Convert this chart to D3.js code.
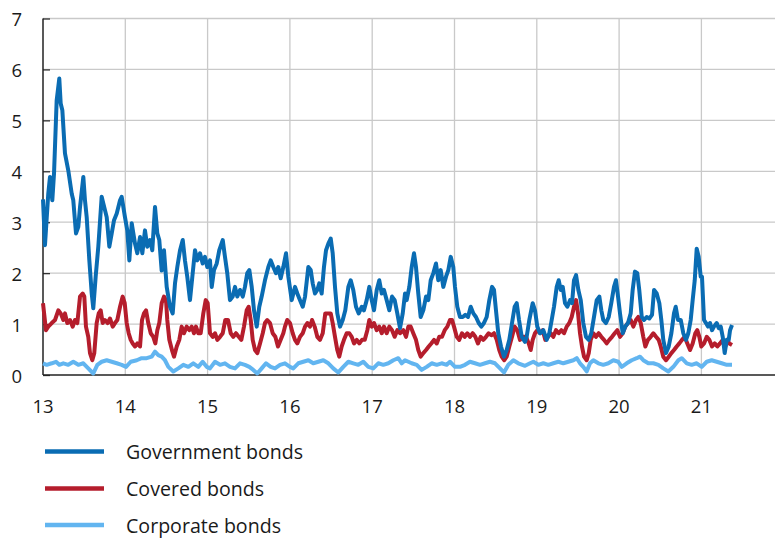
<!DOCTYPE html>
<html>
<head>
<meta charset="utf-8">
<script src="https://cdn.jsdelivr.net/npm/d3@7"></script>
<style>
  html, body { margin: 0; padding: 0; background: #fff; }
  svg { display: block; }
  text { font-family: "Open Sans", "Noto Sans", sans-serif; fill: #1a1a1a; }
</style>
</head>
<body>
<svg id="chart" width="775" height="541"></svg>
<script>
// ---------- data (decimal years, e.g. 13.5 = mid-2013) ----------
const yTicks = [0, 1, 2, 3, 4, 5, 6, 7];
const xTicks = [13, 14, 15, 16, 17, 18, 19, 20, 21];
const xTickLabels = ["13", "14", "15", "16", "17", "18", "19", "20", "21"];
const seriesNames = ["Government bonds", "Covered bonds", "Corporate bonds"];

const govYears = [13.000,13.024,13.064,13.085,13.113,13.134,13.166,13.198,13.215,13.235,13.267,13.307,13.349,13.368,13.401,13.429,13.450,13.490,13.510,13.531,13.563,13.592,13.611,13.640,13.672,13.713,13.733,13.774,13.806,13.835,13.863,13.896,13.936,13.956,13.996,
14.024,14.049,14.078,14.118,14.146,14.179,14.207,14.239,14.267,14.300,14.328,14.361,14.389,14.413,14.442,14.470,14.503,14.543,14.576,14.604,14.632,14.665,14.698,14.725,14.753,14.786,14.819,14.847,14.875,14.908,14.940,14.968,14.996,
15.029,15.050,15.078,15.111,15.142,15.184,15.211,15.239,15.272,15.305,15.333,15.361,15.394,15.427,15.454,15.482,15.507,15.536,15.564,15.597,15.628,15.657,15.697,15.738,15.767,15.798,15.831,15.859,15.888,15.920,15.953,15.981,
16.022,16.062,16.090,16.123,16.156,16.184,16.224,16.253,16.277,16.305,16.333,16.357,16.386,16.414,16.439,16.467,16.496,16.520,16.548,16.576,16.609,16.642,16.673,16.710,16.739,16.770,16.803,16.836,16.873,16.900,16.933,16.965,16.994,
17.022,17.055,17.086,17.116,17.143,17.176,17.208,17.241,17.273,17.305,17.338,17.371,17.399,17.419,17.451,17.480,17.508,17.532,17.560,17.589,17.621,17.654,17.682,17.711,17.743,17.775,17.803,17.832,17.864,17.897,17.925,17.954,17.985,
18.006,18.034,18.067,18.100,18.131,18.164,18.197,18.229,18.261,18.294,18.326,18.358,18.391,18.423,18.456,18.480,18.504,18.532,18.565,18.601,18.634,18.666,18.699,18.731,18.756,18.784,18.817,18.857,18.877,18.909,18.950,18.978,
19.006,19.039,19.079,19.120,19.152,19.181,19.209,19.242,19.266,19.291,19.315,19.343,19.371,19.404,19.428,19.452,19.477,19.505,19.534,19.565,19.598,19.631,19.662,19.695,19.728,19.760,19.784,19.808,19.841,19.874,19.905,19.938,19.962,19.987,
20.011,20.044,20.075,20.108,20.141,20.165,20.193,20.221,20.245,20.275,20.303,20.335,20.367,20.400,20.425,20.457,20.489,20.513,20.537,20.570,20.603,20.635,20.667,20.688,20.716,20.749,20.780,20.813,20.841,20.870,20.894,20.919,20.943,20.967,20.992,
21.007,21.032,21.056,21.080,21.105,21.129,21.153,21.186,21.210,21.235,21.259,21.283,21.308,21.332,21.348,21.372];
const govValues = [3.45,2.55,3.56,3.89,3.43,3.96,5.39,5.82,5.33,5.20,4.35,4.02,3.56,3.43,2.78,2.91,3.30,3.89,3.43,3.10,2.25,1.60,1.31,1.93,2.52,3.50,3.37,3.10,2.52,2.78,3.04,3.17,3.43,3.50,3.10,
2.84,2.25,2.98,2.58,2.39,2.71,2.39,2.84,2.52,2.65,2.45,3.30,2.78,2.65,2.05,2.45,1.73,1.34,1.21,1.80,2.12,2.45,2.65,2.25,1.93,1.47,2.00,2.45,2.25,2.39,2.19,2.32,2.12,
2.25,1.73,2.06,2.19,2.45,2.65,2.32,2.00,1.47,1.54,1.73,1.54,1.67,1.54,1.73,2.00,2.06,1.73,1.27,0.95,1.34,1.54,1.86,2.12,2.25,2.12,2.00,2.12,1.90,2.12,2.39,1.93,
1.47,1.73,1.60,1.47,1.34,1.54,2.12,2.06,1.80,1.60,1.67,1.80,1.60,2.12,2.45,2.58,2.68,2.39,1.73,1.21,0.95,1.08,1.27,1.73,1.86,1.67,1.34,1.21,1.34,1.27,1.47,1.73,1.47,
1.27,1.67,1.86,1.60,1.67,1.47,1.27,1.54,1.47,1.21,0.92,1.21,1.60,1.47,1.73,2.12,2.39,2.12,1.60,1.14,1.27,1.54,1.47,1.86,2.00,2.19,1.86,2.06,1.73,1.93,2.06,2.32,2.12,
1.73,1.34,1.14,1.14,1.18,1.14,1.34,1.21,1.14,1.02,0.95,1.02,1.14,1.47,1.73,1.67,1.27,0.82,0.56,0.36,0.49,0.69,1.02,1.34,1.41,1.08,0.75,0.65,0.75,1.08,1.41,1.27,
0.95,0.82,0.88,0.69,0.82,1.08,1.34,1.73,1.86,1.67,1.73,1.41,1.34,1.47,1.41,1.86,1.96,1.67,1.47,1.02,0.75,0.69,0.82,1.14,1.47,1.54,1.27,1.08,1.02,1.14,1.41,1.73,1.86,1.54,
1.21,0.82,0.95,1.02,1.21,1.67,2.03,2.00,1.67,1.14,1.08,1.14,1.11,1.18,1.67,1.60,1.41,1.08,0.69,0.43,0.56,0.82,1.21,1.34,1.08,1.08,0.82,0.69,0.82,1.08,1.47,1.86,2.48,2.32,1.93,
1.93,1.08,1.02,0.95,1.02,0.88,0.95,1.02,0.92,0.95,0.75,0.43,0.69,0.69,0.88,0.98];

const covYears = [13.000,13.036,13.064,13.106,13.146,13.186,13.215,13.247,13.267,13.295,13.328,13.361,13.389,13.417,13.450,13.482,13.502,13.522,13.550,13.571,13.599,13.623,13.652,13.677,13.701,13.725,13.753,13.786,13.814,13.847,13.875,13.903,13.936,13.968,13.993,
14.017,14.041,14.066,14.090,14.118,14.146,14.179,14.203,14.227,14.252,14.279,14.309,14.340,14.365,14.389,14.413,14.442,14.470,14.495,14.510,14.535,14.567,14.592,14.625,14.656,14.685,14.713,14.746,14.778,14.807,14.835,14.859,14.887,14.916,14.948,14.977,
15.001,15.029,15.062,15.090,15.118,15.151,15.184,15.215,15.248,15.281,15.312,15.345,15.378,15.410,15.442,15.475,15.499,15.524,15.548,15.576,15.604,15.637,15.670,15.697,15.725,15.758,15.791,15.823,15.855,15.888,15.920,15.940,15.968,
16.001,16.034,16.062,16.090,16.123,16.156,16.184,16.212,16.244,16.269,16.301,16.333,16.366,16.399,16.430,16.467,16.496,16.520,16.548,16.576,16.600,16.629,16.657,16.690,16.722,16.751,16.779,16.812,16.843,16.876,16.909,16.941,16.965,16.994,
17.022,17.055,17.086,17.116,17.143,17.176,17.208,17.241,17.273,17.305,17.338,17.378,17.411,17.439,17.468,17.499,17.532,17.560,17.589,17.621,17.654,17.687,17.718,17.751,17.784,17.815,17.848,17.881,17.913,17.945,17.970,17.994,
18.027,18.058,18.091,18.124,18.156,18.188,18.221,18.253,18.285,18.318,18.350,18.383,18.415,18.447,18.480,18.513,18.544,18.573,18.605,18.634,18.666,18.699,18.731,18.763,18.796,18.829,18.869,18.902,18.926,18.950,18.978,
19.006,19.039,19.072,19.103,19.136,19.169,19.201,19.233,19.266,19.298,19.331,19.363,19.395,19.424,19.452,19.477,19.501,19.525,19.549,19.574,19.606,19.631,19.655,19.687,19.719,19.752,19.784,19.817,19.849,19.881,19.914,19.947,19.978,
20.011,20.044,20.075,20.108,20.141,20.173,20.205,20.233,20.263,20.294,20.319,20.351,20.384,20.416,20.449,20.481,20.506,20.537,20.570,20.603,20.635,20.667,20.700,20.732,20.764,20.797,20.829,20.862,20.894,20.926,20.950,20.975,20.999,
21.032,21.065,21.096,21.129,21.162,21.194,21.226,21.259,21.291,21.315,21.339,21.372];
const covValues = [1.41,0.88,0.95,1.02,1.08,1.27,1.21,1.08,1.21,1.02,1.08,0.95,1.08,1.02,1.54,1.60,1.54,0.95,0.75,0.43,0.29,0.43,1.02,1.21,1.27,1.02,1.08,1.02,1.11,0.95,1.02,1.08,1.34,1.54,1.41,
1.02,0.82,0.69,0.62,0.56,0.62,0.56,1.08,1.21,1.27,1.02,0.82,0.75,0.62,0.88,1.02,1.41,1.54,1.47,1.08,0.69,0.49,0.36,0.56,0.69,0.95,0.82,0.95,0.88,0.95,0.82,0.95,0.82,0.82,1.21,1.47,
1.41,0.82,0.75,0.82,0.69,0.75,0.82,1.08,1.08,0.82,0.75,0.82,0.75,0.69,0.95,1.27,1.34,1.08,0.69,0.49,0.43,0.62,0.82,1.02,1.08,1.02,0.82,0.75,0.56,0.69,0.82,0.95,1.08,
1.02,0.82,0.69,0.62,0.75,0.82,0.95,1.02,0.95,1.08,0.95,0.75,0.69,0.82,1.21,1.21,1.21,1.02,0.75,0.49,0.36,0.56,0.69,0.82,0.82,0.75,0.62,0.69,0.62,0.69,0.69,0.88,1.08,0.95,
1.02,0.88,0.95,0.82,0.95,0.82,0.95,0.88,0.75,0.88,0.82,0.88,0.75,0.95,0.95,0.82,0.69,0.49,0.36,0.43,0.49,0.56,0.62,0.69,0.62,0.75,0.75,0.88,0.95,1.08,1.08,0.95,
0.75,0.69,0.82,0.75,0.82,0.75,0.82,0.75,0.62,0.75,0.69,0.75,0.82,0.78,0.82,0.69,0.49,0.36,0.29,0.36,0.56,0.75,0.95,0.88,0.69,0.75,0.75,0.62,0.49,0.69,0.82,
0.88,0.82,0.88,0.69,0.75,0.82,0.75,0.88,0.82,0.88,0.82,0.95,1.02,1.14,1.34,1.47,1.21,0.82,0.56,0.36,0.29,0.43,0.69,0.82,0.75,0.82,0.75,0.69,0.62,0.69,0.75,0.82,0.88,
0.75,0.82,0.95,1.02,1.08,0.95,1.08,1.14,1.02,0.75,0.56,0.69,0.75,0.82,0.75,0.69,0.56,0.36,0.29,0.36,0.43,0.49,0.56,0.62,0.69,0.75,0.62,0.49,0.62,0.82,0.88,0.75,0.56,
0.62,0.75,0.69,0.56,0.62,0.56,0.62,0.69,0.56,0.69,0.62,0.59];

const corpYears = [13.000,13.045,13.106,13.158,13.198,13.247,13.307,13.368,13.429,13.490,13.550,13.611,13.660,13.713,13.774,13.835,13.896,13.956,
14.009,14.066,14.139,14.199,14.260,14.321,14.361,14.401,14.442,14.482,14.523,14.583,14.644,14.705,14.766,14.826,14.887,14.940,14.989,
15.029,15.090,15.151,15.211,15.272,15.333,15.394,15.454,15.507,15.555,15.604,15.657,15.710,15.767,15.819,15.880,15.940,
16.001,16.041,16.102,16.163,16.224,16.284,16.345,16.406,16.467,16.527,16.588,16.649,16.710,16.770,16.831,16.892,16.953,
17.013,17.074,17.135,17.196,17.257,17.317,17.359,17.399,17.480,17.541,17.601,17.662,17.723,17.784,17.844,17.905,17.945,
18.006,18.067,18.128,18.188,18.249,18.310,18.371,18.431,18.492,18.553,18.601,18.654,18.715,18.775,18.857,18.918,18.958,
19.018,19.079,19.140,19.201,19.262,19.322,19.383,19.444,19.485,19.525,19.565,19.606,19.646,19.687,19.748,19.808,19.869,19.930,19.990,
20.032,20.092,20.153,20.214,20.254,20.294,20.355,20.416,20.477,20.537,20.598,20.659,20.720,20.761,20.822,20.882,20.943,
21.004,21.065,21.125,21.186,21.247,21.308,21.372];
const corpValues = [0.23,0.20,0.23,0.26,0.20,0.23,0.20,0.26,0.20,0.23,0.13,0.03,0.20,0.26,0.29,0.26,0.23,0.20,
0.16,0.26,0.29,0.33,0.33,0.36,0.46,0.39,0.36,0.29,0.16,0.07,0.13,0.20,0.16,0.23,0.16,0.26,0.16,
0.13,0.26,0.20,0.23,0.16,0.13,0.23,0.20,0.16,0.10,0.03,0.13,0.23,0.16,0.13,0.20,0.23,
0.16,0.13,0.23,0.26,0.29,0.23,0.26,0.29,0.23,0.13,0.05,0.16,0.26,0.23,0.20,0.26,0.16,
0.13,0.23,0.20,0.23,0.29,0.33,0.23,0.29,0.23,0.20,0.10,0.16,0.23,0.20,0.23,0.20,0.26,
0.16,0.16,0.20,0.26,0.23,0.20,0.23,0.26,0.23,0.13,0.05,0.20,0.29,0.23,0.18,0.23,0.26,
0.20,0.23,0.20,0.23,0.26,0.23,0.26,0.29,0.33,0.23,0.16,0.07,0.23,0.29,0.23,0.20,0.23,0.29,0.26,
0.16,0.23,0.29,0.33,0.36,0.29,0.23,0.23,0.20,0.13,0.07,0.16,0.29,0.33,0.23,0.20,0.23,
0.16,0.26,0.29,0.26,0.23,0.20,0.20];

const seriesColors = ["#0a6cb3", "#b51d2c", "#62b5f0"];

// ---------- drawing ----------
const svg = d3.select("#chart");
const W = 775;
const plotLeft = 43, plotTop = 18.5, plotBottom = 375;

const x = d3.scaleLinear().domain([13, 22]).range([plotLeft, plotLeft + 9 * 82.3]);
const y = d3.scaleLinear().domain([0, 7]).range([plotBottom, plotTop]);

const grid = svg.append("g");
grid.selectAll("line.h").data(yTicks.filter(d => d > 0)).join("line")
  .attr("x1", plotLeft).attr("x2", W)
  .attr("y1", d => y(d)).attr("y2", d => y(d))
  .attr("stroke", "#c9c9c9").attr("stroke-width", 1.3);
grid.selectAll("line.v").data(xTicks.filter(d => d > 13)).join("line")
  .attr("x1", d => x(d)).attr("x2", d => x(d))
  .attr("y1", plotTop).attr("y2", plotBottom)
  .attr("stroke", "#c9c9c9").attr("stroke-width", 1.3);

// axes
const yAxis = d3.axisRight(y).tickValues(yTicks).tickSize(7).tickFormat("");
const gy = svg.append("g").attr("transform", `translate(${plotLeft},0)`).call(yAxis);
gy.select(".domain").remove();
gy.selectAll(".tick line").attr("stroke", "#333").attr("stroke-width", 1.3);
svg.append("line").attr("x1", plotLeft).attr("x2", plotLeft).attr("y1", plotTop).attr("y2", plotBottom)
  .attr("stroke", "#222").attr("stroke-width", 1.5);
svg.append("line").attr("x1", plotLeft).attr("x2", W).attr("y1", plotBottom).attr("y2", plotBottom)
  .attr("stroke", "#222").attr("stroke-width", 1.5);

// y labels
svg.append("g").selectAll("text").data(yTicks).join("text")
  .attr("x", 22).attr("y", d => y(d))
  .attr("text-anchor", "end").attr("dominant-baseline", "central")
  .attr("font-size", 18.5).text(d => d);

// x labels
svg.append("g").selectAll("text").data(xTicks).join("text")
  .attr("x", d => x(d)).attr("y", 405)
  .attr("text-anchor", "middle").attr("dominant-baseline", "central")
  .attr("font-size", 18.5).text((d, i) => xTickLabels[i]);

// lines
const line = d3.line().x(d => x(d[0])).y(d => y(d[1]));
const seriesData = [
  d3.zip(govYears, govValues),
  d3.zip(covYears, covValues),
  d3.zip(corpYears, corpValues)
];
[2, 1, 0].forEach(i => {
  svg.append("path").datum(seriesData[i])
    .attr("d", line)
    .attr("fill", "none")
    .attr("stroke", seriesColors[i])
    .attr("stroke-width", 4)
    .attr("stroke-linejoin", "round")
    .attr("stroke-linecap", "butt");
});

// legend
const legend = svg.append("g");
const legY = [451.5, 488.5, 525];
seriesNames.forEach((name, i) => {
  legend.append("line")
    .attr("x1", 45).attr("x2", 104)
    .attr("y1", legY[i]).attr("y2", legY[i])
    .attr("stroke", seriesColors[i]).attr("stroke-width", 4.3);
  legend.append("text")
    .attr("x", 126).attr("y", legY[i])
    .attr("dominant-baseline", "central")
    .attr("font-size", 19.6).text(name);
});
</script>
</body>
</html>
